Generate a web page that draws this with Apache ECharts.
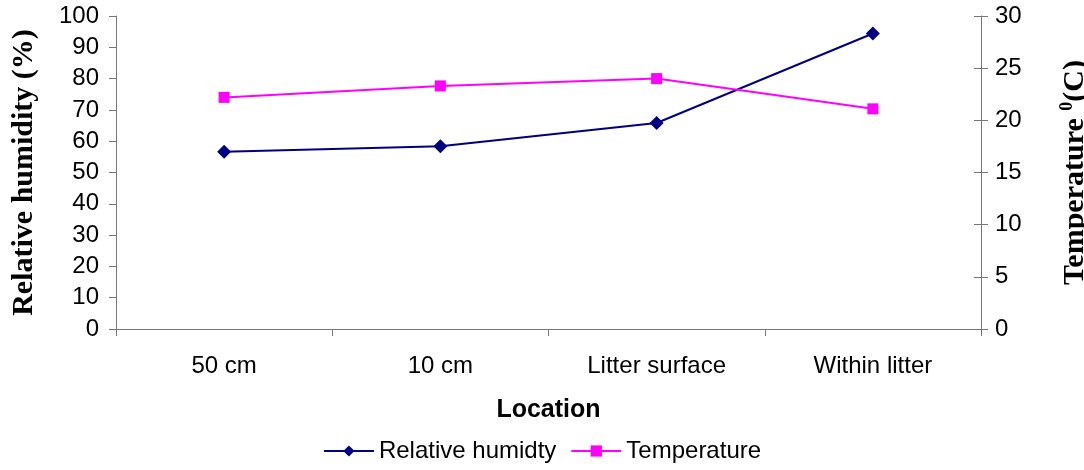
<!DOCTYPE html>
<html>
<head>
<meta charset="utf-8">
<script src="https://cdn.jsdelivr.net/npm/echarts@6/dist/echarts.min.js"></script>
<style>
  html, body { margin: 0; padding: 0; background: #fff; }
  #chart { width: 1084px; height: 470px; }
</style>
</head>
<body>
<div id="chart"></div>
<script>
// Microclimate readings by location
const locations = ['50 cm', '10 cm', 'Litter surface', 'Within litter'];
const relativeHumidity = [56.6, 58.4, 65.8, 94.4];   // %
const temperature = [22.2, 23.3, 24.0, 21.1];         // °C

const axisColor = '#777';
const sans = 'Liberation Sans, Arial, sans-serif';
const serif = 'Liberation Serif, Times New Roman, serif';

const chart = echarts.init(document.getElementById('chart'), null, { renderer: 'canvas' });

chart.setOption({
  animation: false,
  backgroundColor: '#fff',
  grid: { left: 116, right: 103, top: 16, height: 313, containLabel: false, outerBoundsMode: 'none' },
  legend: {
    bottom: 2,
    left: 'center',
    itemWidth: 50,
    itemHeight: 14,
    itemGap: 14,
    textStyle: { fontFamily: sans, fontSize: 24, color: '#000' },
    data: ['Relative humidty', 'Temperature']
  },
  xAxis: {
    type: 'category',
    data: locations,
    boundaryGap: true,
    name: 'Location',
    nameLocation: 'middle',
    nameGap: 69,
    nameTextStyle: { fontFamily: sans, fontSize: 25, fontWeight: 'bold', color: '#000' },
    axisLine: { lineStyle: { color: axisColor, width: 1 } },
    axisTick: { show: true, length: 7, lineStyle: { color: axisColor } },
    axisLabel: { fontFamily: sans, fontSize: 24, color: '#000', margin: 25 },
    splitLine: { show: false }
  },
  yAxis: [
    {
      type: 'value',
      position: 'left',
      min: 0, max: 100, interval: 10,
      name: 'Relative humidity (%)',
      nameLocation: 'middle',
      nameRotate: 90,
      nameGap: 77,
      nameTextStyle: { fontFamily: serif, fontSize: 30, fontWeight: 'bold', color: '#000' },
      axisLine: { show: true, lineStyle: { color: axisColor, width: 1 } },
      axisTick: { show: true, length: 7, lineStyle: { color: axisColor } },
      axisLabel: { fontFamily: sans, fontSize: 24, color: '#000', margin: 17 },
      splitLine: { show: false }
    },
    {
      type: 'value',
      position: 'right',
      min: 0, max: 30, interval: 5,
      name: 'Temperature {sup|0}(C)',
      nameLocation: 'middle',
      nameRotate: 90,
      nameGap: 77,
      nameTextStyle: {
        fontFamily: serif, fontSize: 30, fontWeight: 'bold', color: '#000',
        rich: {
          sup: { fontFamily: serif, fontSize: 18, fontWeight: 'bold', color: '#000', verticalAlign: 'top', lineHeight: 34 }
        }
      },
      axisLine: { show: true, lineStyle: { color: axisColor, width: 1 } },
      axisTick: { show: true, length: 7, lineStyle: { color: axisColor } },
      axisLabel: { fontFamily: sans, fontSize: 24, color: '#000', margin: 14 },
      splitLine: { show: false }
    },
    {
      // inner half of the right-hand cross ticks
      type: 'value',
      position: 'right',
      min: 0, max: 30, interval: 5,
      axisLine: { show: false },
      axisTick: { show: true, inside: true, length: 7, lineStyle: { color: axisColor } },
      axisLabel: { show: false },
      splitLine: { show: false }
    }
  ],
  series: [
    {
      name: 'Relative humidty',
      type: 'line',
      yAxisIndex: 0,
      data: relativeHumidity,
      symbol: 'diamond',
      symbolSize: 14,
      lineStyle: { color: '#000080', width: 2 },
      itemStyle: { color: '#000080' }
    },
    {
      name: 'Temperature',
      type: 'line',
      yAxisIndex: 1,
      data: temperature,
      symbol: 'rect',
      symbolSize: 11,
      lineStyle: { color: '#ff00ff', width: 2 },
      itemStyle: { color: '#ff00ff' }
    }
  ]
});
</script>
</body>
</html>
